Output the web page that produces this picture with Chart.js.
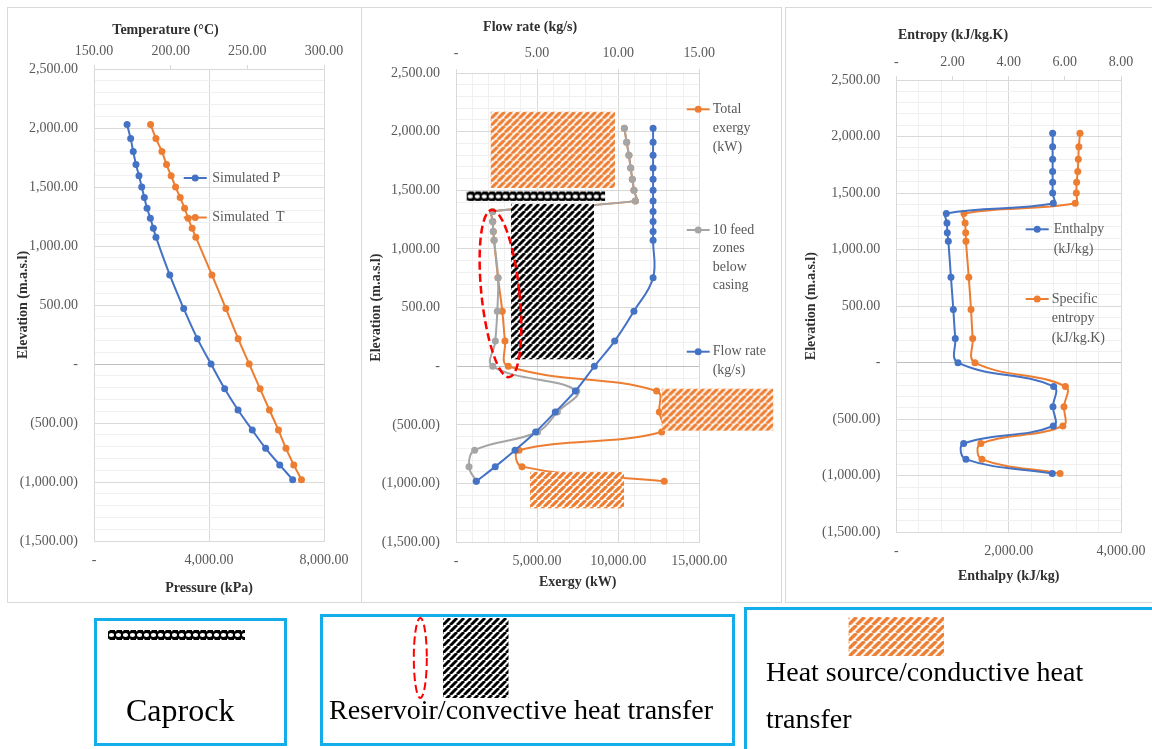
<!DOCTYPE html>
<html>
<head>
<meta charset="utf-8">
<script src="https://cdn.jsdelivr.net/npm/chart.js@4.4.1/dist/chart.umd.min.js"></script>
<style>
  body { margin: 0; background: #fff; }
  #page { position: relative; width: 1152px; height: 749px; overflow: hidden; background: #fff; font-family: "Liberation Serif", "Times New Roman", serif; }
  .frame { position: absolute; box-sizing: border-box; border: 1px solid #d9d9d9; }
  canvas { position: absolute; }
  .key { position: absolute; box-sizing: border-box; border: 3px solid #13aeea; }
  .keytext { position: absolute; white-space: nowrap; color: #000; line-height: 1; }
</style>
</head>
<body>
<div id="page">
  <div class="frame" style="left:7px;top:7px;width:355px;height:596px"></div>
  <div class="frame" style="left:361px;top:7px;width:421px;height:596px"></div>
  <div class="frame" style="left:785px;top:7px;width:440px;height:596px"></div>

  <canvas id="ptChart" width="354" height="595" style="left:7px;top:7px"></canvas>
  <canvas id="exergyChart" width="420" height="595" style="left:361px;top:7px"></canvas>
  <canvas id="enthalpyChart" width="435" height="595" style="left:785px;top:7px"></canvas>

  <canvas id="keySwatches" width="1152" height="149" style="left:0;top:600px"></canvas>
  <div class="key" style="left:94px;top:618px;width:193px;height:128px"></div>
  <div class="key" style="left:320px;top:614px;width:415px;height:132px"></div>
  <div class="key" style="left:744px;top:607px;width:500px;height:200px"></div>
  <div class="keytext" style="left:126px;top:694px;font-size:32px">Caprock</div>
  <div class="keytext" style="left:329px;top:696px;font-size:28px">Reservoir/convective heat transfer</div>
  <div class="keytext" style="left:766px;top:658px;font-size:28px">Heat source/conductive heat</div>
  <div class="keytext" style="left:766px;top:705px;font-size:28px">transfer</div>
</div>

<script>
// depth profile of the well, one entry per simulation node (m.a.s.l)
const elevation = [2030, 1910, 1800, 1690, 1595, 1500, 1410, 1320, 1235, 1150, 1075, 755, 470, 215, 0, -210, -390, -560, -715, -855, -980];

// pressure (kPa) and temperature (°C)
const pressure = [1150, 1275, 1365, 1460, 1565, 1660, 1750, 1845, 1960, 2065, 2155, 2635, 3120, 3595, 4070, 4545, 5010, 5505, 5970, 6460, 6910];
const temperature = [186.9, 190.4, 194.3, 197.3, 200.3, 203.2, 206.2, 209.1, 211.4, 214.0, 216.4, 226.9, 236.0, 244.0, 251.2, 258.3, 264.4, 270.3, 275.2, 280.3, 285.3];

// flow rate (kg/s) and exergy (kW)
const flowRate = [12.15, 12.15, 12.15, 12.15, 12.15, 12.15, 12.15, 12.15, 12.15, 12.15, 12.15, 12.15, 10.97, 9.78, 8.53, 7.36, 6.12, 4.91, 3.64, 2.42, 1.25];
const feedZoneExergy = [10380, 10520, 10660, 10770, 10870, 10970, 11060, 2260, 2265, 2300, 2345, 2590, 2545, 2425, 2265, 7450, 6250, 5030, 1150, 800, 1250];
const totalExergy = [10380, 10520, 10660, 10770, 10870, 10970, 11060, 2260, 2265, 2300, 2345, 2590, 2855, 3020, 3225, 12370, 12535, 12680, 3885, 4070, 12840];

// enthalpy (kJ/kg) and specific entropy (kJ/kg.K)
const enthalpy = [2783, 2783, 2783, 2783, 2783, 2783, 2795, 890, 902, 908, 926, 973, 1015, 1050, 1098, 2801, 2789, 2795, 1199, 1240, 2777];
const entropy = [6.54, 6.50, 6.48, 6.46, 6.42, 6.41, 6.37, 2.41, 2.45, 2.47, 2.48, 2.58, 2.66, 2.72, 2.80, 6.02, 5.97, 5.93, 3.01, 3.05, 5.83];

// axis ranges
const elevRange = [-1500, 2500];
const pressureRange = [0, 8000];
const tempRange = [150, 300];
const exergyRange = [0, 15000];
const flowRange = [0, 15];
const enthalpyRange = [0, 4000];
const entropyRange = [0, 8];

// geological zones marked on the exergy plot (exergy kW / elevation m)
const heatZones = [
  { x: [2140, 9800], y: [1520, 2170] },
  { x: [12680, 19560], y: [-550, -190] },
  { x: [4560, 10360], y: [-1210, -900] }
];
const caprockZone = { x: [660, 9190], y: [1410, 1490] };
const reservoirZone = { x: [3390, 8510], y: [60, 1385] };
const reservoirOutline = { x: 2740, y: 620, dx: 1170, dy: 716, tilt: -6 };

const BLUE = '#4472C4', ORANGE = '#ED7D31', GRAY = '#A5A5A5';
const TICK = '#595959', TITLE = '#303030';
const tickFont = { family: 'Liberation Serif', size: 14 };
const titleFont = { family: 'Liberation Serif', size: 14, weight: 'bold' };

Chart.defaults.font.family = 'Liberation Serif';

// accounting style labels: "-" for zero, brackets for negatives
function fmt(v) {
  if (Math.abs(v) < 1e-9) return '-';
  const s = Math.abs(v).toLocaleString('en-US', { minimumFractionDigits: 2, maximumFractionDigits: 2 });
  return v < 0 ? '(' + s + ')' : s;
}
function isMultiple(v, m) {
  return Math.abs(v / m - Math.round(v / m)) < 1e-6;
}

// pattern tiles
function stripeTile(fg, size, width) {
  const c = document.createElement('canvas');
  c.width = c.height = size;
  const g = c.getContext('2d');
  g.fillStyle = '#fff';
  g.fillRect(0, 0, size, size);
  g.strokeStyle = fg;
  g.lineWidth = width;
  g.beginPath();
  for (let k = -1; k <= 1; k++) {
    g.moveTo(k * size, size);
    g.lineTo(k * size + size, 0);
  }
  g.stroke();
  return c;
}
function caprockTile() {
  const c = document.createElement('canvas');
  c.width = 7; c.height = 10;
  const g = c.getContext('2d');
  g.fillStyle = '#000';
  g.fillRect(0, 0, 7, 10);
  g.fillStyle = '#fff';
  g.beginPath();
  g.ellipse(3.5, 5, 2.6, 1.9, 0, 0, Math.PI * 2);
  g.fill();
  g.fillRect(0, 0, 1.5, 1.2);
  g.fillRect(0, 8.8, 1.5, 1.2);
  return c;
}
const orangeTile = stripeTile(ORANGE, 7, 3.1);
const blackTile = stripeTile('#000', 7, 2.9);
const capTile = caprockTile();

function fillTile(ctx, tile, x0, y0, w, h) {
  ctx.save();
  ctx.translate(x0, y0);
  ctx.fillStyle = ctx.createPattern(tile, 'repeat');
  ctx.fillRect(0, 0, w, h);
  ctx.restore();
}
function dashedEllipse(ctx, cx, cy, rx, ry, rot, width) {
  ctx.save();
  ctx.strokeStyle = '#ff0000';
  ctx.lineWidth = width;
  ctx.setLineDash([8, 4]);
  ctx.beginPath();
  ctx.ellipse(cx, cy, rx, ry, rot, 0, Math.PI * 2);
  ctx.stroke();
  ctx.restore();
}

// legend entries drawn wherever the layout puts them
const floatLegend = {
  id: 'floatLegend',
  afterDraw(chart, args, opts) {
    const ctx = chart.ctx;
    ctx.save();
    ctx.font = '14px "Liberation Serif"';
    ctx.textBaseline = 'middle';
    opts.items.forEach(it => {
      const ds = chart.data.datasets[it.ds];
      ctx.strokeStyle = ds.borderColor;
      ctx.lineWidth = 2;
      ctx.beginPath();
      ctx.moveTo(it.x, it.y);
      ctx.lineTo(it.x + 23, it.y);
      ctx.stroke();
      ctx.fillStyle = ds.borderColor;
      ctx.beginPath();
      ctx.arc(it.x + 11.5, it.y, 3.5, 0, Math.PI * 2);
      ctx.fill();
      ctx.fillStyle = TICK;
      it.lines.forEach((t, k) => ctx.fillText(t, it.x + it.dx, it.y + k * it.lead));
    });
    ctx.restore();
  }
};

// hatched zones on the exergy plot
const zoneOverlay = {
  id: 'zoneOverlay',
  afterDatasetsDraw(chart) {
    const { ctx, scales } = chart;
    const px = v => scales.x.getPixelForValue(v);
    const py = v => scales.y.getPixelForValue(v);
    const zone = (z, tile) => {
      const x0 = px(z.x[0]), x1 = px(z.x[1]), y0 = py(z.y[1]), y1 = py(z.y[0]);
      fillTile(ctx, tile, x0, y0, x1 - x0, y1 - y0);
    };
    heatZones.forEach(z => zone(z, orangeTile));
    zone(caprockZone, capTile);
    zone(reservoirZone, blackTile);
    const e = reservoirOutline;
    dashedEllipse(ctx, px(e.x), py(e.y), px(e.x + e.dx) - px(e.x), py(e.y - e.dy) - py(e.y), e.tilt * Math.PI / 180, 2.5);
  }
};

function series(label, xs, color, axis) {
  return {
    label: label,
    xAxisID: axis,
    yAxisID: 'y',
    data: elevation.map((e, i) => ({ x: xs[i], y: e })),
    borderColor: color,
    backgroundColor: color,
    borderWidth: 2,
    pointRadius: 3.5,
    pointBorderWidth: 0,
    tension: 0.4
  };
}

function elevAxis(L) {
  return {
    type: 'linear', position: 'left', min: elevRange[0], max: elevRange[1],
    afterFit: s => { s.width = L.left; },
    ticks: { stepSize: 100, autoSkip: false, padding: L.yTick, font: tickFont, color: TICK,
      callback: v => isMultiple(v, 500) ? fmt(v) : '' },
    grid: { drawTicks: false,
      color: c => Math.abs(c.tick.value) < 1e-6 ? '#bfbfbf' : isMultiple(c.tick.value, 500) ? '#d9d9d9' : '#f0f0f0' },
    border: { color: '#d9d9d9' },
    title: { display: true, text: 'Elevation (m.a.s.l)', font: titleFont, color: TITLE, padding: { top: L.yTitle } }
  };
}
function bottomAxis(range, minor, major, title, L) {
  return {
    type: 'linear', position: 'bottom', min: range[0], max: range[1],
    afterFit: s => { s.height = L.bottom; },
    ticks: { stepSize: minor, autoSkip: false, maxRotation: 0, padding: L.xTick, font: tickFont, color: TICK,
      callback: v => isMultiple(v, major) ? fmt(v) : '' },
    grid: { drawTicks: false, color: c => isMultiple(c.tick.value, major) ? '#d9d9d9' : '#f0f0f0' },
    border: { color: '#d9d9d9' },
    title: { display: true, text: title, font: titleFont, color: TITLE, padding: { bottom: L.xTitle } }
  };
}
function topAxis(range, step, L) {
  return {
    type: 'linear', position: 'top', min: range[0], max: range[1],
    afterFit: s => { s.height = L.top; },
    ticks: { stepSize: step, autoSkip: false, maxRotation: 0, padding: L.topTick, font: tickFont, color: TICK, callback: fmt },
    grid: { drawOnChartArea: false, tickLength: 4, color: '#d9d9d9' },
    border: { color: '#d9d9d9' }
  };
}

function profileChart(id, L, datasets, scales, legendItems, extra) {
  return new Chart(document.getElementById(id), {
    type: 'line',
    data: { datasets: datasets },
    options: {
      responsive: false,
      animation: false,
      events: [],
      devicePixelRatio: 1,
      layout: { padding: { left: 0, top: 0, bottom: 0, right: L.right } },
      scales: scales,
      plugins: {
        legend: { display: false },
        tooltip: { enabled: false },
        title: { display: true, text: L.title, font: titleFont, color: TITLE, padding: { top: L.titlePad, bottom: 0 } },
        floatLegend: { items: legendItems }
      }
    },
    plugins: [floatLegend].concat(extra || [])
  });
}

// pressure / temperature
const L1 = { left: 87, right: 37, top: 29.9, bottom: 61, titlePad: 15.3, yTick: 16, yTitle: 7.6, xTick: 10.6, xTitle: 5.3, topTick: 5, title: 'Temperature (°C)' };
profileChart('ptChart', L1,
  [series('Simulated P', pressure, BLUE, 'x'), series('Simulated  T', temperature, ORANGE, 'x2')],
  {
    x: bottomAxis(pressureRange, 4000, 4000, 'Pressure (kPa)', L1),
    x2: topAxis(tempRange, 50, L1),
    y: elevAxis(L1)
  },
  [
    { ds: 0, x: 176.7, y: 171, dx: 28.6, lead: 0, lines: ['Simulated P'] },
    { ds: 1, x: 176.7, y: 210.5, dx: 28.6, lead: 0, lines: ['Simulated  T'] }
  ]);

// flow rate / exergy
const L2 = { left: 95, right: 81.7, top: 37.3, bottom: 59.7, titlePad: 11.9, yTick: 16, yTitle: 7.3, xTick: 11, xTitle: 10.9, topTick: 7, title: 'Flow rate (kg/s)' };
profileChart('exergyChart', L2,
  [
    series('Flow rate (kg/s)', flowRate, BLUE, 'x2'),
    series('10 feed zones below casing', feedZoneExergy, GRAY, 'x'),
    series('Total exergy (kW)', totalExergy, ORANGE, 'x')
  ],
  {
    x: bottomAxis(exergyRange, 1000, 5000, 'Exergy (kW)', L2),
    x2: topAxis(flowRange, 5, L2),
    y: elevAxis(L2)
  },
  [
    { ds: 2, x: 325.7, y: 102.3, dx: 26, lead: 18.8, lines: ['Total', 'exergy', '(kW)'] },
    { ds: 1, x: 325.7, y: 223, dx: 26, lead: 18.6, lines: ['10 feed', 'zones', 'below', 'casing'] },
    { ds: 0, x: 325.7, y: 344.7, dx: 26, lead: 18.6, lines: ['Flow rate', '(kg/s)'] }
  ],
  [zoneOverlay]);

// enthalpy / entropy
const L3 = { left: 111.3, right: 99, top: 36.6, bottom: 69.7, titlePad: 19.6, yTick: 16, yTitle: 17.6, xTick: 11, xTitle: 17.6, topTick: 5.3, title: 'Entropy (kJ/kg.K)' };
profileChart('enthalpyChart', L3,
  [series('Enthalpy (kJ/kg)', enthalpy, BLUE, 'x'), series('Specific entropy (kJ/kg.K)', entropy, ORANGE, 'x2')],
  {
    x: bottomAxis(enthalpyRange, 400, 2000, 'Enthalpy (kJ/kg)', L3),
    x2: topAxis(entropyRange, 2, L3),
    y: elevAxis(L3)
  },
  [
    { ds: 0, x: 240.7, y: 222.3, dx: 28, lead: 20, lines: ['Enthalpy', '(kJ/kg)'] },
    { ds: 1, x: 240.7, y: 292, dx: 26, lead: 19.6, lines: ['Specific', 'entropy', '(kJ/kg.K)'] }
  ]);

// swatches for the zone key underneath
(function drawKey() {
  const g = document.getElementById('keySwatches').getContext('2d');
  fillTile(g, capTile, 108, 30, 137, 10);
  dashedEllipse(g, 420.3, 58, 6.5, 40, 0, 2);
  fillTile(g, stripeTile('#000', 7, 2.9), 443, 18, 65.5, 80);
  fillTile(g, stripeTile(ORANGE, 8, 3.4), 848.6, 17, 95.4, 39);
})();
</script>
</body>
</html>
